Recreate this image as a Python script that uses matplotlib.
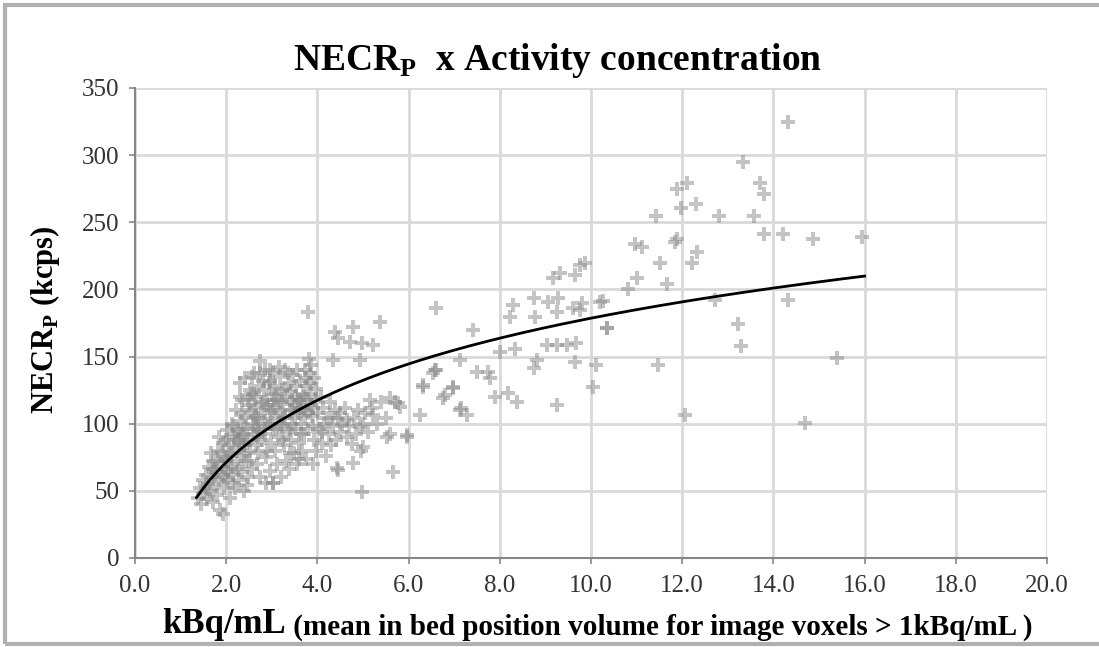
import numpy as np
import matplotlib
matplotlib.use("Agg")
import matplotlib.pyplot as plt
from matplotlib.patches import Rectangle

plt.rcParams['font.family'] = ['Liberation Serif', 'DejaVu Serif']
plt.rcParams['mathtext.fontset'] = 'custom'
plt.rcParams['mathtext.rm'] = 'Liberation Serif'
plt.rcParams['mathtext.bf'] = 'Liberation Serif:bold'

# ---------------- data ----------------
# dense cluster, x in kBq/mL
cluster_x = [1.38, 1.42, 1.45, 1.50, 1.52, 1.55, 1.58, 1.60,
             1.62, 1.65, 1.68, 1.70, 1.72, 1.75, 1.78, 1.80, 1.66,
             1.82, 1.84, 1.86, 1.88, 1.90, 1.92, 1.94, 1.95, 1.97, 1.99, 1.85,
             2.01, 2.03, 2.05, 2.06, 2.08, 2.10, 2.12, 2.13, 2.15, 2.17, 2.19, 2.20,
             2.22, 2.23, 2.25, 2.27, 2.28, 2.30, 2.32, 2.33, 2.35, 2.36, 2.38, 2.40, 2.31,
             2.41, 2.42, 2.44, 2.45, 2.47, 2.48, 2.50, 2.52, 2.53, 2.55, 2.56, 2.58, 2.60, 2.57, 2.46,
             2.62, 2.63, 2.65, 2.66, 2.68, 2.70, 2.72, 2.73, 2.75, 2.76, 2.78, 2.80, 2.74, 2.69,
             2.82, 2.83, 2.85, 2.86, 2.88, 2.90, 2.92, 2.93, 2.95, 2.96, 2.98, 3.00, 2.87,
             3.02, 3.03, 3.05, 3.07, 3.08, 3.10, 3.12, 3.13, 3.15, 3.17, 3.18, 3.20, 3.03,
             3.22, 3.23, 3.25, 3.27, 3.28, 3.30, 3.32, 3.33, 3.35, 3.37, 3.38, 3.40,
             3.42, 3.43, 3.45, 3.47, 3.48, 3.50, 3.52, 3.53, 3.55, 3.57, 3.58, 3.60,
             3.62, 3.63, 3.65, 3.67, 3.68, 3.70, 3.72, 3.73, 3.75, 3.77, 3.78, 3.80,
             3.82, 3.83, 3.84, 3.85, 3.86, 3.87, 3.88, 3.90, 3.92, 3.93, 3.95, 3.97, 3.98,
             4.02, 4.05, 4.08, 4.10, 4.12, 4.15, 4.18, 4.20, 4.25, 4.28, 4.30, 4.35, 4.38, 4.40,
             4.45, 4.50, 4.55, 4.60, 4.65, 4.70, 4.75, 4.80, 4.85, 4.90, 4.95, 5.00,
             5.05, 5.10, 5.20, 5.30, 5.40, 5.50, 5.60, 5.70,
             1.75, 1.90, 2.00, 2.15, 2.25, 2.35, 2.45, 2.55, 2.65, 2.75, 2.85, 2.95,
             3.05, 3.15, 3.25, 3.35, 3.45, 3.55, 3.65, 3.75, 2.05, 2.30, 2.60, 2.90,
             3.20, 3.50, 3.70, 2.40, 2.70, 3.00,
             1.55, 1.70, 1.80, 1.95, 2.00, 2.10, 2.20, 2.25, 2.35, 2.40,
             2.50, 2.50, 2.60, 2.65, 2.70, 2.80, 2.85, 2.90, 3.00, 3.10,
             3.10, 3.20, 3.25, 3.30, 3.40, 3.45, 3.50, 3.60, 3.65, 3.70,
             3.80, 3.90, 3.40, 3.60, 3.90, 4.10, 4.30, 4.50, 2.15, 2.95]
# NECRp in kcps
cluster_y = [45, 52, 40, 58, 48, 62, 44, 55,
             68, 50, 60, 42, 72, 55, 64, 47, 78,
             80, 58, 36, 70, 62, 86, 33, 52, 75, 66, 90,
             95, 72, 58, 84, 45, 68, 100, 78, 62, 90, 52, 82,
             110, 70, 95, 58, 86, 120, 76, 102, 64, 92, 50, 84, 130,
             134, 105, 72, 96, 118, 60, 88, 125, 80, 110, 66, 100, 92, 135, 54,
             138, 112, 84, 120, 70, 104, 128, 95, 60, 115, 88, 132, 147, 78,
             108, 125, 92, 140, 75, 118, 100, 130, 65, 110, 86, 122, 56,
             138, 96, 112, 80, 128, 104, 70, 118, 90, 135, 108, 60, 56,
             125, 98, 115, 84, 140, 106, 72, 120, 94, 130, 66, 110,
             124, 88, 100, 136, 78, 114, 96, 128, 70, 108, 118, 86,
             132, 100, 112, 80, 122, 92, 140, 106, 74, 118, 128, 96,
             148, 138, 130, 122, 114, 144, 106, 98, 134, 88, 118, 80, 126,
             108, 96, 120, 86, 112, 100, 76, 104, 92, 116, 84, 98, 110, 88,
             104, 94, 100, 112, 90, 98, 85, 104, 92, 110, 80, 100,
             108, 94, 112, 100, 116, 104, 92, 116,
             66, 79, 72, 98, 88, 118, 86, 122, 106, 138, 96, 132,
             118, 142, 104, 138, 110, 140, 118, 134, 64, 90, 104, 114,
             116, 120, 110, 78, 94, 100,
             52, 66, 72, 60, 88, 76, 92, 66, 108, 96,
             114, 72, 122, 98, 90, 116, 102, 80, 110, 96,
             122, 100, 88, 126, 96, 118, 104, 112, 92, 120,
             108, 112, 78, 74, 70, 94, 104, 108, 56, 140]

# sparse points
sparse_x = [14.32, 13.34, 13.71, 13.80, 12.10, 11.89, 11.97, 12.30, 11.43, 12.81,
            13.57, 13.80, 14.20, 14.86, 15.94, 10.96, 11.11, 11.84, 11.89, 11.51,
            12.32, 12.21, 11.00, 11.66, 10.82, 10.26, 10.36, 12.72, 14.33, 13.23,
            13.29, 11.48, 15.39, 12.06, 14.69,
            9.17, 9.32, 9.65, 9.76, 9.87, 6.61, 8.30, 8.22, 8.74, 8.77,
            9.06, 9.28, 9.25, 9.61, 9.80, 10.20, 9.76, 10.34, 7.42, 8.00,
            8.33, 9.03, 9.25, 9.47, 9.68, 7.13, 6.54, 6.61, 7.49, 7.75,
            7.78, 8.74, 8.81, 9.65, 10.12, 6.32, 6.98, 6.76, 7.89, 8.19,
            8.37, 10.05, 7.13, 7.27, 9.25, 6.25, 5.96, 5.81,
            4.39, 4.79, 5.37, 4.46, 4.71, 4.97, 5.23, 4.35, 4.93, 6.58,
            6.32, 6.80, 6.98, 7.16, 5.15, 5.59, 5.77, 5.23, 5.52, 4.64,
            4.93, 5.01, 4.79, 4.46, 5.66, 4.97, 3.80, 3.03, 4.42, 5.96]
sparse_y = [324.9, 295.0, 279.5, 271.0, 279.5, 275.0, 261.0, 263.6, 254.7, 254.7,
            254.7, 241.0, 241.0, 237.3, 239.3, 233.8, 231.8, 235.5, 237.3, 219.4,
            228.0, 219.4, 208.3, 204.0, 200.0, 191.4, 171.5, 192.0, 192.0, 174.0,
            157.9, 143.7, 148.7, 106.5, 100.3,
            208.3, 212.0, 210.7, 218.0, 219.4, 186.0, 188.4, 179.7, 193.4, 179.7,
            190.9, 193.4, 183.4, 186.0, 189.6, 190.9, 184.7, 171.0, 169.8, 153.6,
            156.0, 158.6, 158.6, 158.6, 159.9, 147.4, 137.5, 140.0, 138.7, 138.7,
            133.8, 141.2, 147.4, 146.2, 143.7, 128.8, 127.5, 119.0, 120.0, 122.6,
            116.4, 127.5, 110.0, 106.5, 114.0, 106.5, 90.3, 112.7,
            168.5, 172.3, 176.0, 163.6, 161.0, 160.0, 158.6, 147.4, 147.4, 140.0,
            127.5, 121.4, 126.4, 111.5, 117.6, 118.9, 115.2, 106.5, 90.3, 102.8,
            97.8, 82.9, 70.5, 65.5, 64.3, 49.4, 183.4, 55.6, 66.8, 91.6]

# logarithmic trendline  y = A*ln(x) + B
TREND_A = 66.7
TREND_B = 25.0
TREND_X_RANGE = [1.35, 16.0]

x_ticks = [0, 2, 4, 6, 8, 10, 12, 14, 16, 18, 20]
y_ticks = [0, 50, 100, 150, 200, 250, 300, 350]

title_text = "NECR$_\\mathbf{P}$  x Activity concentration"
ylabel_text = "NECR$_\\mathbf{P}$ (kcps)"
xlabel_main = "kBq/mL"
xlabel_sub = " (mean in bed position volume for image voxels > 1kBq/mL )"

# ---------------- figure ----------------
fig = plt.figure(figsize=(10.99, 6.47), dpi=100)
ax = fig.add_axes([135 / 1099, 89 / 647, (1047 - 135) / 1099, (558 - 88) / 647])

xs = np.array(cluster_x + sparse_x)
ys = np.array(cluster_y + sparse_y)
ax.scatter(xs, ys, marker='P', s=115, color='#8a8a8a', alpha=0.5,
           linewidths=0, zorder=3)

tx = np.linspace(TREND_X_RANGE[0], TREND_X_RANGE[1], 200)
ax.plot(tx, TREND_A * np.log(tx) + TREND_B, color='black', lw=2.0, zorder=4)

ax.set_xlim(0, 20)
ax.set_ylim(0, 350)
ax.set_xticks(x_ticks)
ax.set_xticklabels([f"{v:.1f}" for v in x_ticks])
ax.set_yticks(y_ticks)
ax.grid(True, color='#d9d9d9', lw=2.0, zorder=0)
ax.set_axisbelow(True)
for s in ['top', 'right']:
    ax.spines[s].set_visible(False)
for s in ['left', 'bottom']:
    ax.spines[s].set_color('#868686')
    ax.spines[s].set_linewidth(1.5)
ax.tick_params(axis='both', direction='out', length=4, width=1.2,
               color='#868686', labelsize=18, labelcolor='#333333')
ax.tick_params(axis='x', pad=8)
ax.tick_params(axis='y', pad=7)

fig.text(558 / 1099, 1 - 61 / 647, title_text, ha='center', va='center',
         fontsize=27, fontweight='bold', color='black')
fig.text(45 / 1099, 1 - 320 / 647, ylabel_text, ha='center', va='center',
         rotation=90, fontsize=22, fontweight='bold', color='black')

t1 = fig.text(162 / 1099, 1 - 633 / 647, xlabel_main, ha='left', va='baseline',
              fontsize=25, fontweight='bold', color='black')
ax.annotate(xlabel_sub, xy=(1, 0), xycoords=t1, va='bottom', ha='left',
            fontsize=21, fontweight='bold', color='black')

fig.patches.append(Rectangle((5 / 1099, 3 / 647), 1.2, 639 / 647,
                             transform=fig.transFigure, fill=False,
                             edgecolor='#b0b0b0', lw=3, clip_on=False))

fig.savefig("out.png", dpi=100)
